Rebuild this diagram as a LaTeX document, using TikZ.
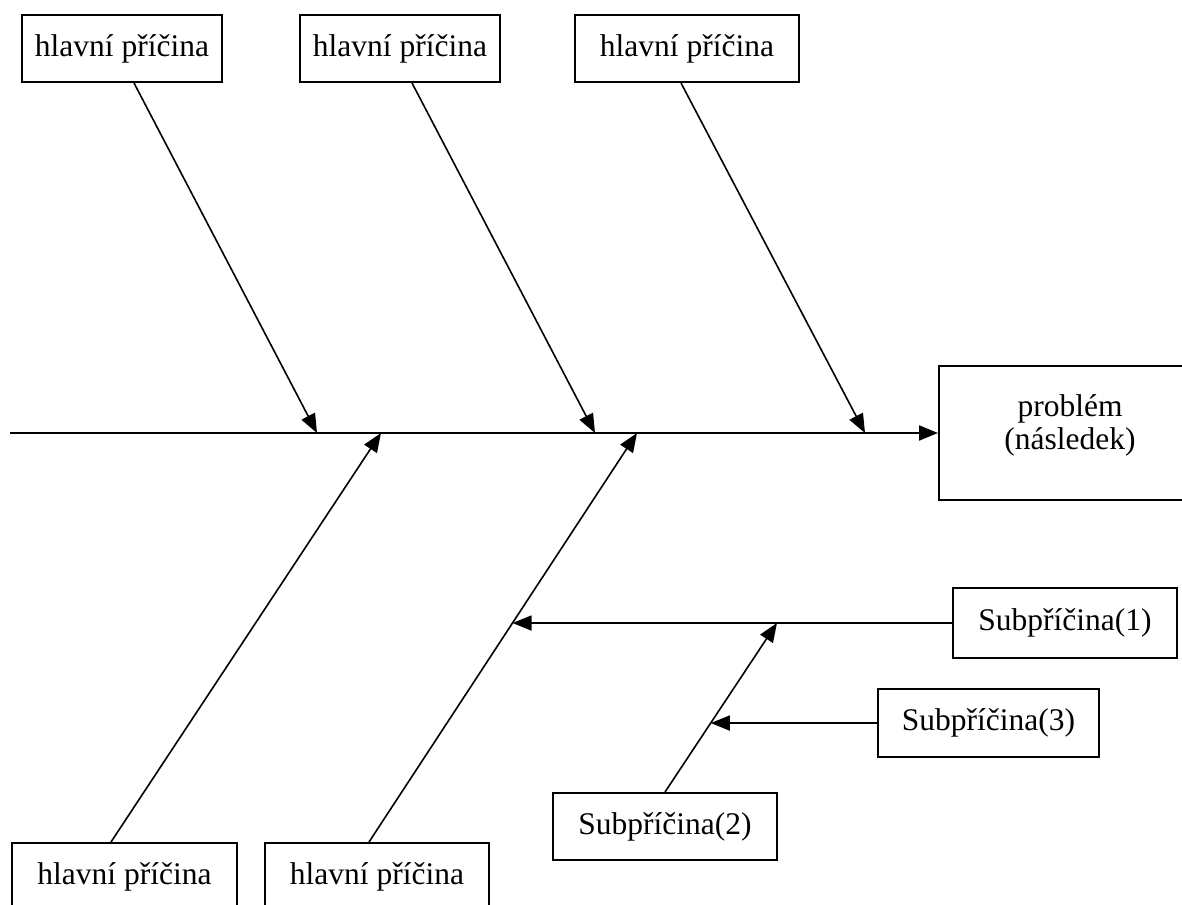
\documentclass[tikz,border=0pt]{standalone}
\usepackage{fontspec}
\setmainfont{Liberation Serif}
\usetikzlibrary{arrows.meta,calc}

\tikzset{
  causebox/.style={draw, line width=2pt, rectangle, inner sep=0pt,
    font=\fontsize{31.5}{36}\selectfont},
  bone/.style={line width=1.6pt},
  bonearrow/.style={line width=1.6pt, -{Triangle[length=19pt,width=15pt]}},
}

\begin{document}
\begin{tikzpicture}[x=1pt,y=-1pt]
  \useasboundingbox (0,0) rectangle (1182,904);

  % effect box at the head of the fish
  \node[causebox, minimum width=262pt, minimum height=134pt] (prob) at (1070,433) {};
  \node[font=\fontsize{31.5}{33}\selectfont, align=center, anchor=north, inner sep=0pt]
    (probtext) at ([yshift=-29pt]prob.north) {problém\\(následek)};

  % main causes above the spine
  \node[causebox, minimum width=200pt, minimum height=67pt] (c1) at (122,48.5) {hlavní příčina};
  \node[causebox, minimum width=200pt, minimum height=67pt] (c2) at (400,48.5) {hlavní příčina};
  \node[causebox, minimum width=224pt, minimum height=67pt] (c3) at (687,48.5) {hlavní příčina};

  % main causes below the spine (cut by the page edge)
  \node[causebox, minimum width=225pt, minimum height=67pt] (c4) at (124.5,876.5) {hlavní příčina};
  \node[causebox, minimum width=224pt, minimum height=67pt] (c5) at (377,876.5) {hlavní příčina};

  % sub-causes
  \node[causebox, minimum width=224pt, minimum height=70pt] (s1) at (1065,623) {Subpříčina(1)};
  \node[causebox, minimum width=221pt, minimum height=68pt] (s3) at (988.5,723) {Subpříčina(3)};
  \node[causebox, minimum width=224pt, minimum height=67pt] (s2) at (665,826.5) {Subpříčina(2)};

  % spine
  \coordinate (tail) at (10,433);
  \draw[line width=2pt, -{Triangle[length=19pt,width=15pt]}] (tail) -- (prob.west);

  % points where the bones meet the spine
  \coordinate (t1) at (317,433);
  \coordinate (t2) at (595,433);
  \coordinate (t3) at (865,433);
  \coordinate (t4) at (381,433);
  \coordinate (t5) at (637,433);

  % feet of the bones on their boxes
  \coordinate (f1) at ([xshift=12pt]c1.south);
  \coordinate (f2) at ([xshift=12pt]c2.south);
  \coordinate (f3) at ([xshift=-6pt]c3.south);
  \coordinate (f4) at ([xshift=-13.5pt]c4.north);
  \coordinate (f5) at ([xshift=-8pt]c5.north);

  \draw[bonearrow] (f1) -- (t1);
  \draw[bonearrow] (f2) -- (t2);
  \draw[bonearrow] (f3) -- (t3);
  \draw[bonearrow] (f4) -- (t4);
  \draw[bonearrow] (f5) -- (t5);

  % sub-cause branches
  \coordinate (j2) at (777,623);
  \coordinate (far1) at (s1.west -| tail);
  \coordinate (far3) at (s3.west -| tail);
  \coordinate (b1) at (intersection of f5--t5 and s1.west--far1);
  \coordinate (b3) at (intersection of s2.north--j2 and s3.west--far3);

  \draw[bonearrow] (s1.west) -- (b1);
  \draw[bonearrow] (s2.north) -- (j2);
  \draw[bonearrow] (s3.west) -- (b3);
\end{tikzpicture}
\end{document}
